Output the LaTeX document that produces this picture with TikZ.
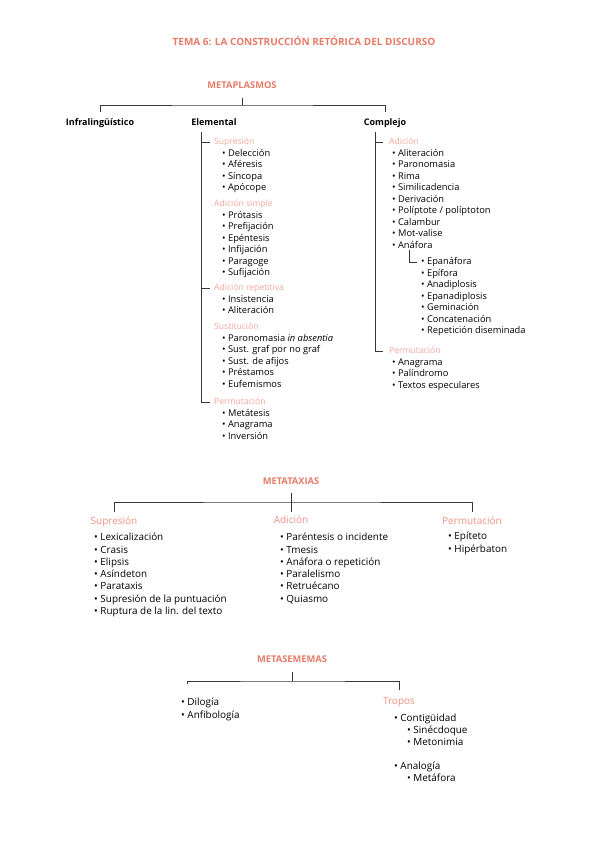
\documentclass[tikz,border=0pt]{standalone}
\usepackage{fontspec}
\setmainfont{Open Sans}
\definecolor{titlered}{RGB}{230,124,104}
\definecolor{catred}{RGB}{244,168,158}
\definecolor{catmid}{RGB}{238,146,132}
\definecolor{linegray}{RGB}{55,55,55}
\tikzset{
    titletext/.style={font=\bfseries\fontsize{10}{12}\selectfont, text=titlered, inner sep=0, text height=7pt, text depth=2pt},
    heading/.style={font=\bfseries\fontsize{9.3}{11}\selectfont, text=titlered, inner sep=0, text height=7pt, text depth=2pt},
    branch/.style={font=\bfseries\fontsize{9}{11}\selectfont, inner sep=0, text height=7pt, text depth=2pt},
    cat/.style={anchor=west, font=\fontsize{8.6}{10}\selectfont, text=catred, inner sep=0, text height=7pt, text depth=2pt},
    item/.style={anchor=west, font=\fontsize{9.3}{11}\selectfont, inner sep=0, text height=7pt, text depth=2pt},
    bigcat/.style={font=\fontsize{10}{12}\selectfont, text=catmid, inner sep=0, text height=7.5pt, text depth=2pt},
    bigitem/.style={anchor=west, font=\fontsize{9.9}{12}\selectfont, inner sep=0, text height=7.5pt, text depth=2pt},
    conn/.style={draw=linegray, line width=0.8pt}
}
\begin{document}
\begin{tikzpicture}[x=1pt,y=-1pt]
    \useasboundingbox[fill=white] (0,0) rectangle (600,848);

    \node[titletext] (title) at (304,43) {TEMA 6: LA CONSTRUCCIÓN RETÓRICA DEL DISCURSO};

    % metaplasmos
    \node[heading] (metaplasmos) at (242,86) {METAPLASMOS};
    \node[branch] (infra) at (100,123) {Infralingüístico};
    \node[branch] (elemental) at (214,123) {Elemental};
    \node[branch] (complejo) at (385,123) {Complejo};
    \coordinate (mpJoin) at (242,105);
    \draw[conn, shorten <=7pt] (metaplasmos.south) -- (mpJoin);
    \draw[conn, shorten <=6pt, shorten >=6pt] (infra.north) |- (mpJoin) -| (complejo.north);

    % elemental
    \node[cat] (elSupr) at (214,142) {Supresión};
    \foreach \t [count=\i] in {Delección,Aféresis,Síncopa,Apócope}
        \node[item] (elSupr-\i) at (222,142+11.5*\i) {• \t};
    \node[cat] (elAdSim) at (214,204) {Adición simple};
    \foreach \t [count=\i] in {Prótasis,Prefijación,Epéntesis,Infijación,Paragoge,Sufijación}
        \node[item] (elAdSim-\i) at (222,204+11.5*\i) {• \t};
    \node[cat] (elAdRep) at (214,288) {Adición repetitiva};
    \foreach \t [count=\i] in {Insistencia,Aliteración}
        \node[item] (elAdRep-\i) at (222,288+11.5*\i) {• \t};
    \node[cat] (elSust) at (214,327) {Sustitución};
    \foreach \t [count=\i] in {Paronomasia \textit{in absentia},Sust. graf por no graf,Sust. de afijos,Préstamos,Eufemismos}
        \node[item] (elSust-\i) at (222,327+11.5*\i) {• \t};
    \node[cat] (elPerm) at (214,402) {Permutación};
    \foreach \t [count=\i] in {Metátesis,Anagrama,Inversión}
        \node[item] (elPerm-\i) at (222,402+11.5*\i) {• \t};
    \coordinate (elTop) at (201,132);
    \draw[conn] (elTop) |- ([xshift=-4pt]elSupr.west);
    \draw[conn] (elTop) |- ([xshift=-4pt]elAdRep.west);
    \draw[conn] (elTop) |- ([xshift=-4pt]elPerm.west);

    % complejo
    \node[cat] (cpAd) at (389,142) {Adición};
    \foreach \t [count=\i] in {Aliteración,Paronomasia,Rima,Similicadencia,Derivación,Políptote / políptoton,Calambur,Mot-valise,Anáfora}
        \node[item] (cpAd-\i) at (392,142+11.5*\i) {• \t};
    \foreach \t [count=\i] in {Epanáfora,Epífora,Anadiplosis,Epanadiplosis,Geminación,Concatenación,Repetición diseminada}
        \node[item] (cpRep-\i) at (421,250.5+11.5*\i) {• \t};
    \node[cat] (cpPerm) at (389,351) {Permutación};
    \foreach \t [count=\i] in {Anagrama,Palíndromo,Textos especulares}
        \node[item] (cpPerm-\i) at (392,351+11.5*\i) {• \t};
    \coordinate (cpTop) at (375,132);
    \draw[conn] (cpTop) |- ([xshift=-6pt]cpAd.west);
    \draw[conn] (cpTop) |- ([xshift=-6pt]cpPerm.west);
    \draw[conn] ([xshift=17pt]cpAd-9.south west) |- ([xshift=-4pt]cpRep-1.west);

    % metataxias
    \node[heading] (metataxias) at (291,482) {METATAXIAS};
    \node[bigcat] (mtSupr) at (114,522) {Supresión};
    \node[bigcat] (mtAd) at (291,521) {Adición};
    \node[bigcat] (mtPerm) at (472,522) {Permutación};
    \coordinate (mtJoin) at (291,502);
    \draw[conn, shorten <=6pt, shorten >=4pt] (metataxias.south) -- (mtAd.north);
    \draw[conn, shorten <=5pt, shorten >=5pt] (mtSupr.north) |- (mtJoin) -| (mtPerm.north);
    \foreach \t [count=\i] in {Lexicalización,Crasis,Elipsis,Asíndeton,Parataxis,Supresión de la puntuación,Ruptura de la lin. del texto}
        \node[bigitem] (mtSupr-\i) at (94,525.7+12.3*\i) {• \t};
    \foreach \t [count=\i] in {Paréntesis o incidente,Tmesis,Anáfora o repetición,Paralelismo,Retruécano,Quiasmo}
        \node[bigitem] (mtAd-\i) at (280,525.7+12.3*\i) {• \t};
    \foreach \t [count=\i] in {Epíteto,Hipérbaton}
        \node[bigitem] (mtPerm-\i) at (448,523.7+12.8*\i) {• \t};

    % metasememas
    \node[heading] (metasememas) at (292,660) {METASEMEMAS};
    \coordinate (msJoin) at (292,681);
    \coordinate (msLeft) at (187,684);
    \draw[conn, shorten <=7pt] (metasememas.south) -- (msJoin);
    \node[bigcat] (tropos) at (399,702) {Tropos};
    \draw[conn, shorten >=7pt] (msLeft) |- (msJoin) -| (tropos.north);
    \node[bigitem] (dilogia) at (181,703) {• Dilogía};
    \node[bigitem] (anfibologia) at (181,716) {• Anfibología};
    \node[bigitem] (contiguidad) at (394,719) {• Contigüidad};
    \node[bigitem] (sinecdoque) at (407,731) {• Sinécdoque};
    \node[bigitem] (metonimia) at (407,743) {• Metonimia};
    \node[bigitem] (analogia) at (394,767) {• Analogía};
    \node[bigitem] (metafora) at (407,779) {• Metáfora};
\end{tikzpicture}
\end{document}
